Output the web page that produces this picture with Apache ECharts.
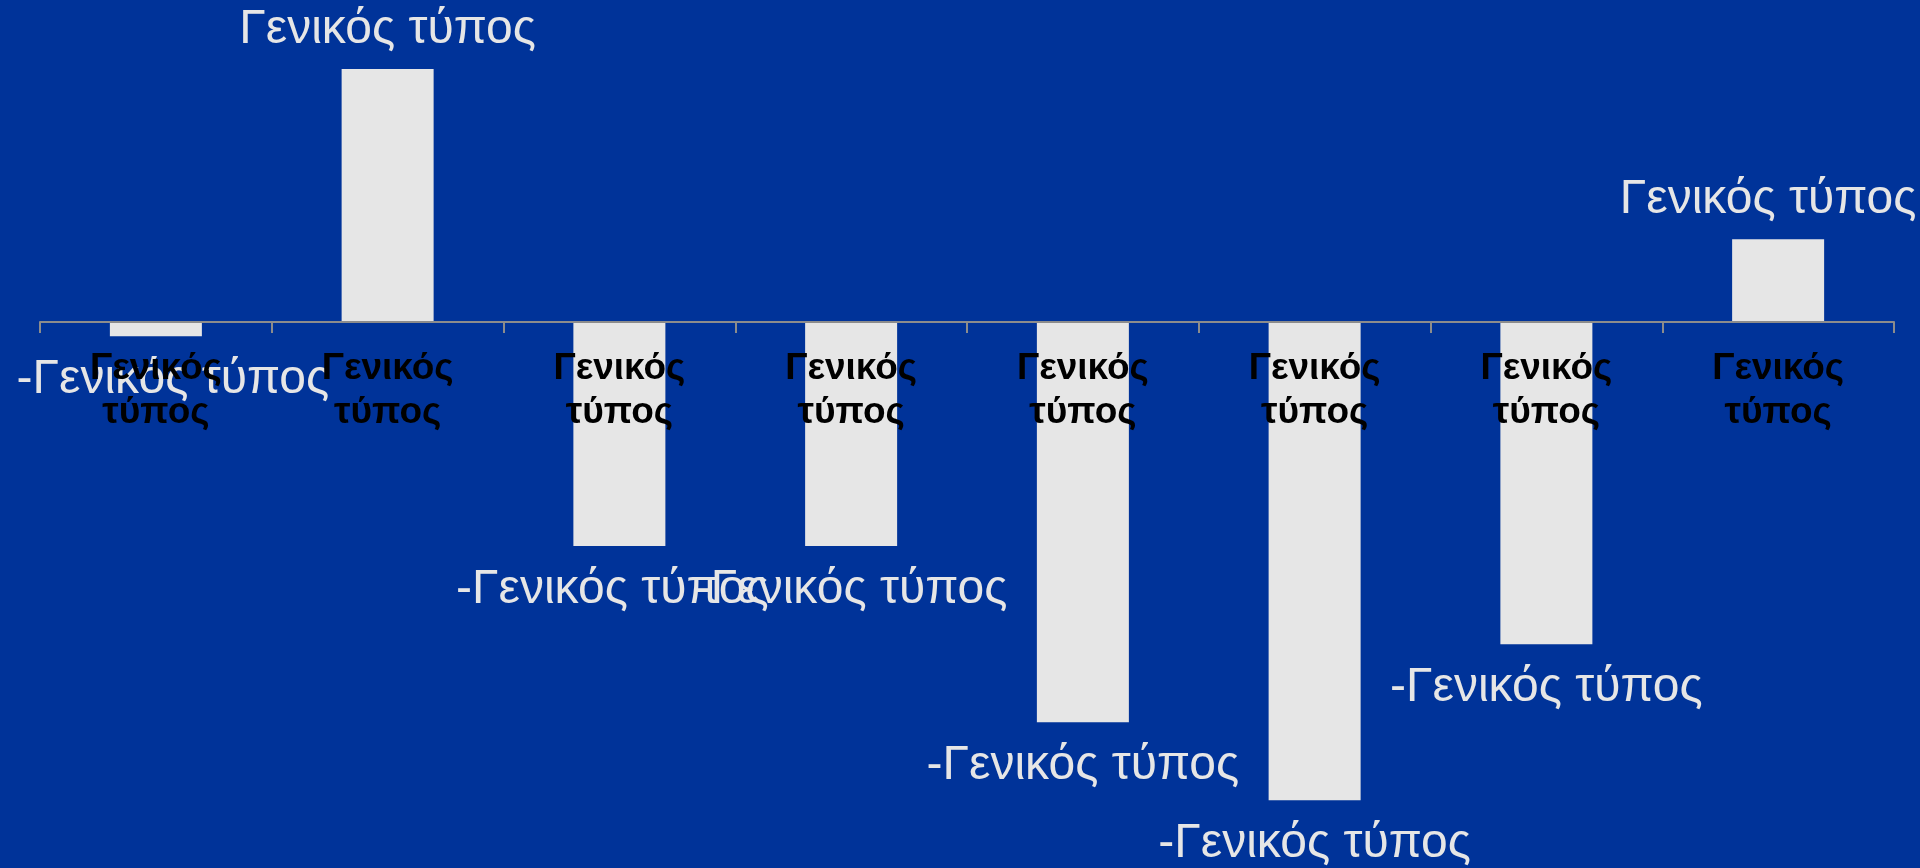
<!DOCTYPE html>
<html>
<head>
<meta charset="utf-8">
<script src="https://cdn.jsdelivr.net/npm/echarts@6/dist/echarts.min.js"></script>
<style>
html,body{margin:0;padding:0;background:#003399;}
#chart{width:1920px;height:868px;}
</style>
</head>
<body>
<div id="chart"></div>
<script>
const categories = ['Γενικός τύπος','Γενικός τύπος','Γενικός τύπος','Γενικός τύπος','Γενικός τύπος','Γενικός τύπος','Γενικός τύπος','Γενικός τύπος'];
const values = [-0.57, 10.12, -8.96, -8.96, -16.01, -19.13, -12.89, 3.31];
const valueLabelText = 'Γενικός τύπος';
const negativePrefix = '-';

const Y_MIN = -20, Y_MAX = 12;
const GRID_TOP = 22, GRID_BOTTOM = 46, H = 868;
const gridHeight = H - GRID_TOP - GRID_BOTTOM;
const zeroOffset = -gridHeight * (0 - Y_MIN) / (Y_MAX - Y_MIN);

// horizontal nudges of individual value labels (style only)
const labelShift = {0: 17, 2: -7, 7: -10};

const chart = echarts.init(document.getElementById('chart'), null, {renderer: 'canvas'});

const seriesData = values.map((v, i) => ({
  value: v,
  label: {
    position: v < 0 ? 'bottom' : 'top',
    distance: v < 0 ? 20 : 15,
    offset: [labelShift[i] || 0, 0]
  }
}));

chart.setOption({
  backgroundColor: '#003399',
  animation: false,
  grid: {left: 40, right: 26, top: GRID_TOP, bottom: GRID_BOTTOM, containLabel: false, outerBoundsMode: 'none'},
  xAxis: {
    type: 'category',
    data: categories,
    position: 'bottom',
    offset: zeroOffset,
    z: 10,
    axisLine: {show: true, onZero: false, lineStyle: {color: '#8c8c8c', width: 2}},
    axisTick: {show: true, length: 11, lineStyle: {color: '#8c8c8c', width: 2}},
    axisLabel: {
      interval: 0,
      margin: 25,
      color: '#000000',
      fontFamily: '"Liberation Sans", Arial, sans-serif',
      fontWeight: 'bold',
      fontSize: 37,
      lineHeight: 44,
      hideOverlap: false,
      formatter: (s) => s.replace(' ', '\n')
    },
    splitLine: {show: false}
  },
  yAxis: {
    type: 'value',
    min: Y_MIN,
    max: Y_MAX,
    show: false,
    splitLine: {show: false}
  },
  series: [{
    type: 'bar',
    data: seriesData,
    barWidth: 92,
    itemStyle: {color: '#e6e6e6'},
    label: {
      show: true,
      color: '#e6e6e6',
      fontFamily: '"Liberation Sans", Arial, sans-serif',
      fontSize: 48,
      lineHeight: 48,
      formatter: (p) => (p.value < 0 ? negativePrefix : '') + valueLabelText
    }
  }]
});
</script>
</body>
</html>
